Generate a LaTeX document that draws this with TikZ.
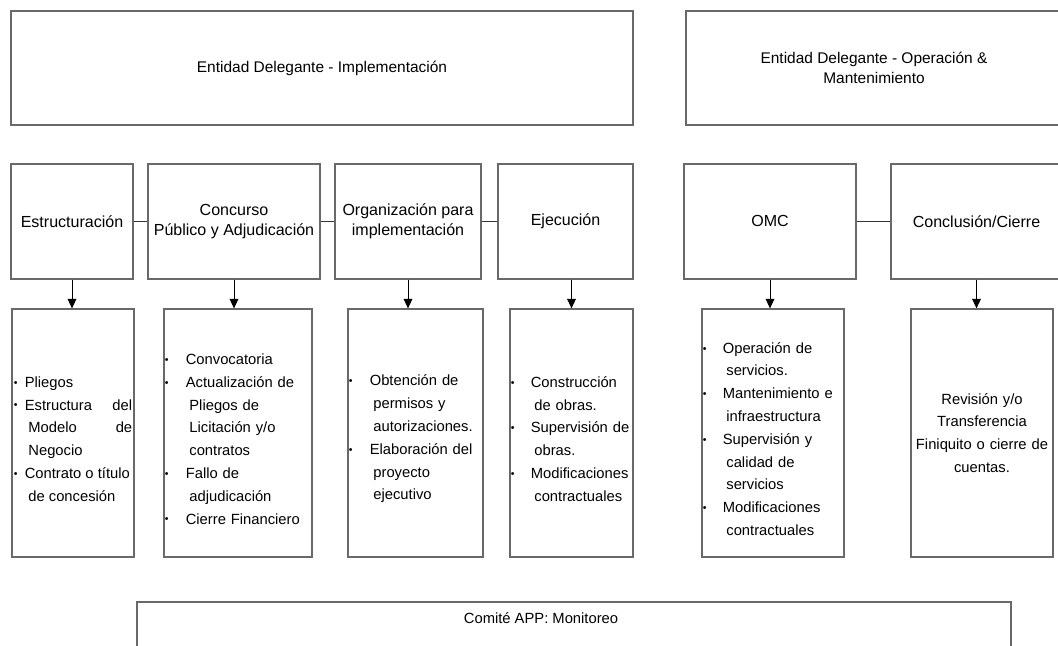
\documentclass[tikz,border=0pt]{standalone}
\usepackage{fontspec}
\setmainfont{Liberation Sans}
\usetikzlibrary{arrows.meta, positioning}
\definecolor{boxgray}{RGB}{105,105,105}
\newcommand{\bdot}{\raisebox{0.15ex}{\fontsize{7.5}{7.5}\selectfont\textbullet}}
\newcommand{\bitem}[2][0.5cm]{\par\hangindent=\dimexpr#1+0.09cm\relax\hangafter=1\noindent\makebox[#1][l]{\bdot}#2}
\tikzset{
  title/.style={rectangle, draw=boxgray, line width=0.9pt, minimum height=2.85cm,
    align=center, font=\fontsize{11}{14.2}\selectfont},
  phase/.style={rectangle, draw=boxgray, line width=0.9pt, minimum height=2.875cm,
    align=center, font=\fontsize{11.4}{14.2}\selectfont},
  detail/.style={rectangle, draw=boxgray, line width=0.9pt, minimum height=6.2cm,
    inner xsep=0pt, font=\fontsize{10.5}{16.2}\selectfont},
  arrow/.style={-{Triangle[length=0.24cm,width=0.22cm]}, line width=0.6pt, color=black},
  line/.style={line width=0.6pt, color=black!80}
}

\begin{document}
\begin{tikzpicture}
  \useasboundingbox (0,0) rectangle (26.45,16.125);
  \clip (0,0) rectangle (26.45,16.125);

  % Entidades
  \node[title, minimum width=15.55cm] (edimp) at (8.05,14.425) {Entidad Delegante - Implementación};
  \node[title, minimum width=9.4cm] (edom) at (21.85,14.425) {Entidad Delegante - Operación \&\\Mantenimiento};

  % Fases
  \node[phase, minimum width=3.05cm] (estr) at (1.8,10.59) {Estructuración};
  \node[phase, minimum width=4.3cm] (conc) at (5.85,10.59) {Concurso\\Público y Adjudicación};
  \node[phase, minimum width=3.65cm] (orga) at (10.2,10.59) {Organización para\\implementación};
  \node[phase, minimum width=3.375cm] (ejec) at (14.1375,10.59) {Ejecución};
  \node[phase, minimum width=4.3cm] (omc) at (19.25,10.59) {OMC};
  \node[phase, minimum width=4.275cm] (cier) at (24.4125,10.59) {Conclusión/Cierre};

  % Actividades
  \node[detail, minimum width=3.05cm, text width=2.96cm, align=justify] (dest) at (1.825,5.3) {%
    \bitem[0.275cm]{Pliegos}
    \bitem[0.275cm]{Estructura del\linebreak Modelo de\linebreak Negocio}
    \bitem[0.275cm]{Contrato o título\newline de concesión}\par};
  \node[detail, minimum width=3.7cm, text width=3.66cm, align=left] (dcon) at (5.95,5.3) {%
    \bitem[0.525cm]{Convocatoria}
    \bitem[0.525cm]{Actualización de\newline Pliegos de\newline Licitación y/o\newline contratos}
    \bitem[0.525cm]{Fallo de\newline adjudicación}
    \bitem[0.525cm]{Cierre Financiero}\par};
  \node[detail, minimum width=3.375cm, text width=3.335cm, align=left] (dorg) at (10.3875,5.3) {%
    \bitem[0.525cm]{Obtención de\newline permisos y\newline autorizaciones.}
    \bitem[0.525cm]{Elaboración del\newline proyecto\newline ejecutivo}\par};
  \node[detail, minimum width=3.075cm, text width=3.035cm, align=left] (deje) at (14.2875,5.3) {%
    \bitem{Construcción\newline de obras.}
    \bitem{Supervisión de\newline obras.}
    \bitem{Modificaciones\newline contractuales}\par};
  \node[detail, minimum width=3.55cm, text width=3.51cm, align=left] (domc) at (19.325,5.3) {%
    \bitem{Operación de\newline servicios.}
    \bitem{Mantenimiento e\newline infraestructura}
    \bitem{Supervisión y\newline calidad de\newline servicios}
    \bitem{Modificaciones\newline contractuales}\par};
  \node[detail, minimum width=3.55cm, text width=3.43cm, align=center] (dcie) at (24.55,5.3) {%
    Revisión y/o\\Transferencia\\Finiquito o cierre de\\cuentas.};

  % Comite
  \node[rectangle, draw=boxgray, line width=0.9pt, minimum width=21.85cm, minimum height=1.95cm,
    label={[anchor=center, xshift=-0.825cm, yshift=-0.425cm, font=\fontsize{10.5}{12}\selectfont]north:{Comité APP: Monitoreo}}]
    (comite) at (14.35,0.1) {};

  % Conexiones
  \draw[line] (estr) -- (conc);
  \draw[line] (conc) -- (orga);
  \draw[line] (orga) -- (ejec);
  \draw[line] (omc) -- (cier);

  \draw[arrow] (estr.south) -- (estr.south |- dest.north);
  \draw[arrow] (conc.south) -- (conc.south |- dcon.north);
  \draw[arrow] (orga.south) -- (orga.south |- dorg.north);
  \draw[arrow] (deje.north |- ejec.south) -- (deje.north);
  \draw[arrow] (omc.south) -- (omc.south |- domc.north);
  \draw[arrow] (cier.south) -- (cier.south |- dcie.north);
\end{tikzpicture}
\end{document}
